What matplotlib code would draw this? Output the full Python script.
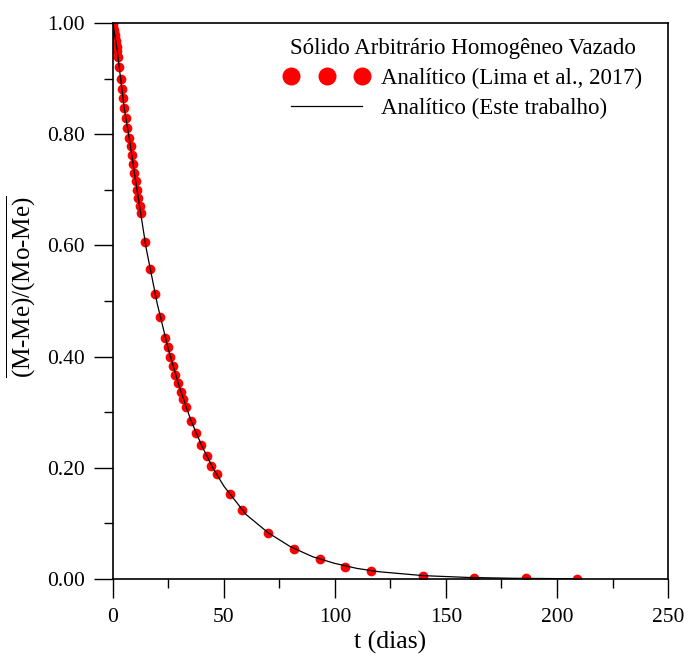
import matplotlib
matplotlib.use('Agg')
import matplotlib.pyplot as plt
from matplotlib.ticker import MultipleLocator, FormatStrFormatter

plt.rcParams['font.family'] = ['Liberation Serif', 'DejaVu Serif']
plt.rcParams['mathtext.fontset'] = 'custom'
plt.rcParams['mathtext.rm'] = 'Liberation Serif'

# pontos analiticos (Lima et al., 2017)
t_lima = [0.1, 0.3, 0.5, 0.7, 0.9, 1.1, 1.3, 1.5, 1.8, 2.1,
          2.4, 2.85, 3.6, 4.2, 4.6, 5.1, 5.9, 6.6, 7.3, 8.0,
          8.7, 9.1, 9.6, 10.4, 11.0, 11.4, 12.2, 12.5, 14.4, 16.7,
          19.1, 21.3, 23.7, 24.8, 25.8, 26.9, 28.1, 29.4, 30.6, 31.7,
          32.9, 35.1, 37.5, 39.9, 42.2, 44.4, 46.7, 52.6, 58.2, 69.8,
          81.5, 93.2, 104.7, 116.3, 139.5, 162.8, 186.0, 209.0]
m_lima = [0.998, 0.993, 0.988, 0.983, 0.978, 0.973, 0.968, 0.963, 0.956, 0.950,
          0.939, 0.920, 0.900, 0.881, 0.865, 0.847, 0.829, 0.812, 0.794, 0.778,
          0.763, 0.746, 0.730, 0.715, 0.700, 0.685, 0.671, 0.659, 0.607, 0.558,
          0.513, 0.471, 0.434, 0.417, 0.399, 0.383, 0.367, 0.352, 0.337, 0.324,
          0.310, 0.285, 0.263, 0.241, 0.222, 0.204, 0.188, 0.152, 0.124, 0.083,
          0.054, 0.036, 0.022, 0.014, 0.006, 0.002, 0.001, 0.0003]

# curva analitica (este trabalho)
t_curva = [0, 2, 5, 7.5, 10, 15, 20, 25, 30, 35, 40, 45, 50, 60, 70,
           80, 90, 100, 110, 120, 140, 160, 180, 209]
m_curva = [1.0, 0.95, 0.85, 0.79, 0.723, 0.595, 0.495, 0.413, 0.345, 0.287, 0.240,
           0.200, 0.167, 0.116, 0.083, 0.058, 0.040, 0.028, 0.019, 0.013,
           0.006, 0.0028, 0.0013, 0.0004]

fig = plt.figure(figsize=(6.88, 6.59), dpi=100)
ax = fig.add_axes([0.164, 0.1214, 0.807, 0.8437])

ax.plot(t_lima, m_lima, 'o', color='red', markersize=7, markeredgewidth=0,
        label='Analítico (Lima et al., 2017)', zorder=2)
ax.plot(t_curva, m_curva, '-', color='black', linewidth=0.9,
        label='Analítico (Este trabalho)', zorder=3)

ax.set_xlim(0, 250)
ax.set_ylim(0, 1.0)
ax.xaxis.set_major_locator(MultipleLocator(50))
ax.xaxis.set_minor_locator(MultipleLocator(25))
ax.yaxis.set_major_locator(MultipleLocator(0.2))
ax.yaxis.set_minor_locator(MultipleLocator(0.1))
ax.yaxis.set_major_formatter(FormatStrFormatter('%.2f'))

ax.tick_params(which='major', direction='out', length=13.7, width=1, labelsize=15.5)
ax.tick_params(which='minor', direction='out', length=6.7, width=1)
ax.tick_params(axis='x', which='major', pad=7)
ax.tick_params(axis='y', which='major', pad=6.5)
for s in ax.spines.values():
    s.set_linewidth(1.2)

ax.set_xlabel('t (dias)', fontsize=18.5)
ax.xaxis.set_label_coords(0.5, -0.094)
ax.set_ylabel(r'$\overline{\text{(M-Me)/(Mo-Me)}}$', fontsize=18)
ax.yaxis.set_label_coords(-0.135, 0.525)

leg = ax.legend(title='Sólido Arbitrário Homogêneo Vazado', loc='upper right',
                bbox_to_anchor=(0.969, 0.99), borderaxespad=0,
                frameon=False, fontsize=16.5, title_fontsize=16.5, numpoints=3,
                markerscale=1.85, handlelength=3.7, handletextpad=0.5,
                labelspacing=0.4)

fig.savefig('out.png', dpi=100)
